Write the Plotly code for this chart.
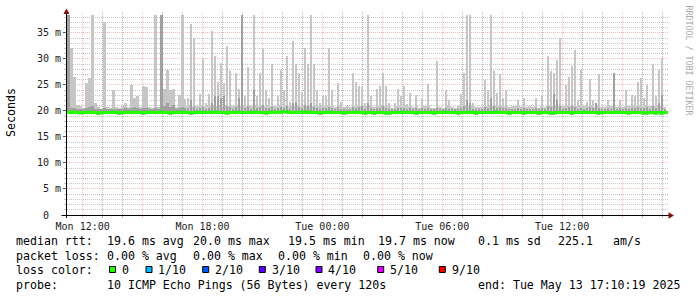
import plotly.graph_objects as go
import pandas as pd

# ---------------- data ----------------
START = "2025-05-12 11:13:00"
END = "2025-05-13 17:18:00"
STEP = "9min"

smoke_max = [
    38.5, 32.0, 26.6, 21.2, 21.0, 20.6, 25.3, 26.3, 38.5, 21.5, 20.8, 20.3, 37.0, 20.8, 20.5, 24.1, 20.8, 20.6, 21.0, 21.5,
    20.7, 25.0, 22.5, 22.8, 20.8, 24.8, 24.5, 20.8, 20.6, 38.5, 20.8, 38.5, 24.3, 27.9, 24.0, 24.3, 20.8, 23.0, 38.5, 22.3,
    22.4, 36.6, 34.0, 20.9, 23.3, 30.0, 21.5, 23.3, 35.4, 30.5, 25.6, 29.2, 25.3, 32.4, 27.6, 21.0, 27.3, 24.3, 38.5, 22.8,
    28.5, 21.0, 38.5, 22.8, 27.3, 31.9, 24.0, 22.4, 29.0, 21.0, 22.8, 27.9, 24.0, 30.6, 21.8, 33.5, 29.0, 27.3, 23.7, 32.0,
    29.0, 38.5, 29.0, 24.0, 21.5, 22.8, 22.8, 32.0, 24.0, 20.8, 25.3, 21.8, 20.8, 21.0, 20.7, 27.3, 25.6, 24.8, 24.6, 21.5,
    38.5, 22.8, 20.8, 24.2, 24.8, 27.3, 24.8, 21.5, 20.6, 21.5, 24.2, 22.8, 24.8, 21.3, 23.5, 20.8, 23.0, 20.6, 22.4, 21.0,
    25.2, 20.5, 20.6, 29.6, 20.8, 20.5, 24.1, 22.1, 20.8, 20.6, 21.0, 23.2, 27.3, 38.5, 38.5, 21.5, 20.8, 20.7, 20.8, 26.0,
    24.0, 38.5, 27.6, 23.5, 27.0, 22.4, 24.0, 20.8, 21.0, 21.0, 22.1, 20.8, 22.4, 20.8, 21.0, 20.7, 22.4, 20.6, 22.8, 20.8,
    30.5, 27.6, 27.3, 29.8, 34.0, 20.9, 25.0, 26.6, 28.7, 31.7, 22.1, 27.9, 20.9, 21.8, 26.2, 22.1, 20.8, 27.0, 20.8, 20.7,
    22.1, 21.0, 27.2, 20.8, 22.1, 20.8, 24.0, 20.9, 23.0, 22.8, 25.6, 26.3, 22.4, 25.0, 20.9, 29.0, 22.8, 27.9, 29.9, 20.8,
]

smoke_mid = [
    38.5, 20.6, 20.5, 20.4, 20.4, 20.3, 20.6, 20.8, 21.0, 20.4, 20.3, 20.3, 20.5, 20.4, 20.3, 20.4, 20.3, 20.3, 20.4, 20.5,
    20.3, 20.5, 20.8, 20.6, 20.3, 20.6, 20.5, 20.3, 20.3, 20.6, 20.4, 38.5, 21.0, 21.5, 20.8, 21.2, 20.4, 20.6, 20.8, 20.5,
    20.6, 22.0, 20.8, 20.4, 20.6, 20.8, 20.4, 20.6, 21.5, 22.8, 22.8, 22.5, 22.8, 21.0, 20.8, 20.4, 20.8, 22.5, 38.5, 20.6,
    21.0, 20.4, 24.0, 20.5, 20.8, 21.2, 20.6, 20.5, 20.8, 20.4, 20.5, 20.8, 20.6, 21.0, 20.4, 21.5, 21.8, 20.8, 20.6, 21.2,
    21.0, 21.5, 20.8, 20.6, 20.4, 20.6, 20.5, 20.8, 20.6, 20.3, 20.8, 20.4, 20.3, 20.4, 20.3, 20.8, 20.6, 20.8, 21.0, 20.4,
    21.5, 20.6, 20.3, 20.6, 20.5, 21.0, 20.6, 20.4, 20.3, 20.4, 20.6, 20.5, 20.6, 20.4, 20.5, 20.3, 20.5, 20.3, 20.5, 20.3,
    20.6, 20.3, 20.3, 20.6, 20.3, 20.3, 20.5, 20.4, 20.3, 20.3, 20.4, 20.6, 21.0, 22.0, 21.5, 20.4, 20.3, 20.3, 20.4, 20.8,
    20.6, 22.5, 21.0, 20.6, 20.8, 20.5, 20.6, 20.3, 20.4, 20.4, 20.5, 20.3, 20.6, 20.3, 20.4, 20.3, 20.5, 20.3, 20.6, 20.3,
    21.0, 20.8, 23.3, 22.0, 21.0, 20.4, 20.6, 20.8, 21.0, 20.8, 20.4, 20.6, 20.3, 20.5, 20.8, 20.5, 21.5, 20.6, 20.3, 20.3,
    20.5, 20.4, 27.2, 20.3, 20.5, 20.3, 20.6, 20.3, 20.5, 20.6, 20.8, 20.6, 20.5, 20.8, 20.3, 21.0, 20.6, 21.5, 23.0, 20.4,
]

smoke_min = [
    19.4, 19.4, 19.5, 19.4, 19.4, 19.4, 19.5, 19.4, 19.4, 19.4, 19.3, 19.4, 19.4, 19.4, 19.5, 19.4, 19.4, 19.3, 19.4, 19.4,
    19.4, 19.4, 19.5, 19.4, 19.4, 19.3, 19.4, 19.4, 19.4, 19.4, 19.4, 19.5, 19.4, 19.4, 19.3, 19.4, 19.4, 19.4, 19.5, 19.4,
    19.4, 19.3, 19.4, 19.4, 19.5, 19.4, 19.4, 19.4, 19.5, 19.5, 19.4, 19.4, 19.4, 19.3, 19.4, 19.4, 19.5, 19.4, 19.4, 19.4,
    19.4, 19.4, 19.5, 19.4, 19.4, 19.4, 19.3, 19.4, 19.5, 19.4, 19.4, 19.5, 19.6, 19.5, 19.4, 19.4, 19.4, 19.5, 19.5, 19.4,
    19.5, 19.4, 19.4, 19.4, 19.3, 19.4, 19.4, 19.5, 19.4, 19.4, 19.4, 19.4, 19.3, 19.4, 19.4, 19.4, 19.5, 19.4, 19.4, 19.3,
    19.4, 19.4, 19.3, 19.4, 19.4, 19.4, 19.3, 19.3, 19.4, 19.4, 19.4, 19.4, 19.5, 19.4, 19.4, 19.4, 19.3, 19.4, 19.4, 19.4,
    19.4, 19.4, 19.3, 19.4, 19.4, 19.4, 19.5, 19.4, 19.4, 19.4, 19.3, 19.4, 19.4, 19.4, 19.5, 19.4, 19.3, 19.4, 19.4, 19.4,
    19.4, 19.4, 19.4, 19.5, 19.4, 19.4, 19.4, 19.3, 19.4, 19.4, 19.4, 19.4, 19.3, 19.4, 19.4, 19.4, 19.4, 19.3, 19.4, 19.4,
    19.4, 19.3, 19.3, 19.4, 19.4, 19.4, 19.4, 19.4, 19.3, 19.4, 19.4, 19.4, 19.5, 19.4, 19.4, 19.4, 19.4, 19.3, 19.4, 19.4,
    19.4, 19.4, 19.4, 19.5, 19.4, 19.4, 19.4, 19.3, 19.4, 19.4, 19.4, 19.4, 19.3, 19.3, 19.4, 19.4, 19.3, 19.4, 19.3, 19.4,
]

median = [
    19.7, 19.8, 19.7, 19.7, 19.6, 19.7, 19.7, 19.8, 19.7, 19.7, 19.6, 19.6, 19.7, 19.7, 19.7, 19.8, 19.7, 19.6, 19.7, 19.7,
    19.7, 19.7, 19.8, 19.7, 19.7, 19.6, 19.7, 19.8, 19.7, 19.7, 19.7, 19.8, 19.7, 19.7, 19.6, 19.7, 19.7, 19.7, 19.8, 19.7,
    19.7, 19.6, 19.7, 19.7, 19.8, 19.7, 19.7, 19.7, 19.8, 19.8, 19.7, 19.7, 19.7, 19.6, 19.7, 19.7, 19.8, 19.7, 19.7, 19.7,
    19.7, 19.7, 19.8, 19.7, 19.7, 19.7, 19.6, 19.7, 19.8, 19.7, 19.7, 19.8, 19.9, 19.8, 19.7, 19.7, 19.7, 19.8, 19.8, 19.7,
    19.8, 19.7, 19.7, 19.7, 19.6, 19.7, 19.7, 19.8, 19.7, 19.7, 19.7, 19.7, 19.6, 19.7, 19.7, 19.7, 19.8, 19.7, 19.7, 19.6,
    19.7, 19.7, 19.6, 19.7, 19.7, 19.7, 19.6, 19.6, 19.7, 19.7, 19.7, 19.7, 19.8, 19.7, 19.7, 19.7, 19.6, 19.7, 19.7, 19.7,
    19.7, 19.7, 19.6, 19.7, 19.7, 19.7, 19.8, 19.7, 19.7, 19.7, 19.6, 19.7, 19.7, 19.7, 19.8, 19.7, 19.6, 19.7, 19.7, 19.7,
    19.7, 19.7, 19.7, 19.8, 19.7, 19.7, 19.7, 19.6, 19.7, 19.7, 19.7, 19.7, 19.6, 19.7, 19.7, 19.7, 19.7, 19.6, 19.7, 19.7,
    19.7, 19.6, 19.6, 19.7, 19.7, 19.7, 19.7, 19.7, 19.6, 19.7, 19.7, 19.7, 19.8, 19.7, 19.7, 19.7, 19.7, 19.6, 19.7, 19.7,
    19.7, 19.7, 19.7, 19.8, 19.7, 19.7, 19.7, 19.6, 19.7, 19.7, 19.7, 19.7, 19.6, 19.6, 19.7, 19.7, 19.6, 19.7, 19.6, 19.7,
]

y_tickvals = [0, 5, 10, 15, 20, 25, 30, 35]
y_ticktext = ["0\u00a0\u00a0", "5 m", "10 m", "15 m", "20 m", "25 m", "30 m", "35 m"]
x_tickvals = ["2025-05-12 12:00", "2025-05-12 15:00", "2025-05-12 18:00", "2025-05-12 21:00",
              "2025-05-13 00:00", "2025-05-13 03:00", "2025-05-13 06:00", "2025-05-13 09:00",
              "2025-05-13 12:00", "2025-05-13 15:00"]
x_ticktext = ["Mon 12:00", "", "Mon 18:00", "", "Tue 00:00", "", "Tue 06:00", "", "Tue 12:00", ""]

legend_rows = [
    [("median rtt:", 16), ("19.6 ms avg", 107), ("20.0 ms max", 193), ("19.5 ms min", 287.5),
     ("19.7 ms now", 377.5), ("0.1 ms sd", 478.5), ("225.1", 557.5), ("am/s", 613)],
    [("packet loss:", 16), ("0.00 % avg", 107), ("0.00 % max", 193), ("0.00 % min", 278), ("0.00 % now", 363)],
    [("loss color:", 16)],
    [("probe:", 16), ("10 ICMP Echo Pings (56 Bytes) every 120s", 107), ("end: Tue May 13 17:10:19 2025", 478)],
]
legend_row_y = [241, 255.5, 270, 284.5]
loss_labels = ["0", "1/10", "2/10", "3/10", "4/10", "5/10", "9/10"]
loss_colors = ["#26ff00", "#00b8ff", "#0059ff", "#5e00ff", "#7e00ff", "#dd00ff", "#ff0000"]
loss_box_x = [109.5, 146, 202.7, 259.3, 316, 377.7, 439.3]

# ---------------- geometry ----------------
W, H = 697, 297
L, R, T, B = 67, 29, 12, 82
PW, PH = W - L - R, H - T - B
FONT = "DejaVu Sans Mono"
SMOKE_BAND = 21.0  # upper edge of the continuous low smoke band


def px(x):
    return (x - L) / PW


def py(y):
    return (H - B - y) / PH


left_edges = pd.date_range(START, periods=len(smoke_max), freq=STEP)
step_td = pd.Timedelta(STEP)
centers = left_edges + step_td / 2
bar_w = step_td.total_seconds() * 1000

band_top = [min(v, SMOKE_BAND) for v in smoke_max]

# minor grid positions (hourly / every 1 ms) that do not coincide with major ones
hours = pd.date_range("2025-05-12 12:00", END, freq="1h")
x_minor = [h for h in hours if h.hour % 3 != 0]
y_minor = [v for v in range(0, 40) if v % 5 != 0]

fig = go.Figure()
fig.add_trace(go.Bar(x=centers, y=[a - b for a, b in zip(band_top, smoke_min)], base=smoke_min,
                     width=bar_w, marker=dict(color="#cdcdcd", line=dict(width=0)), hoverinfo="skip"))
fig.add_trace(go.Bar(x=centers, y=[a - b for a, b in zip(smoke_max, smoke_min)], base=smoke_min,
                     width=bar_w * 0.75, marker=dict(color="#c6c6c6", line=dict(width=0)), hoverinfo="skip"))
fig.add_trace(go.Bar(x=centers, y=[a - b for a, b in zip(smoke_mid, smoke_min)], base=smoke_min,
                     width=bar_w * 0.75, marker=dict(color="#a0a0a0", line=dict(width=0)), hoverinfo="skip"))
line_x = list(left_edges) + [pd.Timestamp(END)]
line_y = median + [median[-1]]
fig.add_trace(go.Scatter(x=line_x, y=line_y, mode="lines", line=dict(color="#26ff00", width=3, shape="hv"),
                         hoverinfo="skip"))

minor_grid_y = "rgba(120,120,120,0.42)"
minor_grid_x = "rgba(110,110,110,0.5)"
major_grid = "rgba(255,40,40,0.32)"

fig.update_layout(
    width=W, height=H, margin=dict(l=L, r=R, t=T, b=B, pad=0),
    paper_bgcolor="white", plot_bgcolor="white", showlegend=False,
    barmode="overlay", bargap=0,
    font=dict(family=FONT, size=10, color="#222222"),
    xaxis=dict(type="date", range=[START, END], tickmode="array", tickvals=x_tickvals, ticktext=x_ticktext,
               showgrid=True, gridcolor=major_grid, griddash="1px,1px", gridwidth=1,
               ticks="outside", ticklen=2, tickcolor=major_grid, showline=False, zeroline=False,
               tickfont=dict(family=FONT, size=10, color="#222222"),
               minor=dict(tickmode="array", tickvals=x_minor, showgrid=True,
                          gridcolor=minor_grid_x, griddash="1px,1px", ticks="outside", ticklen=2,
                          tickcolor=minor_grid_x)),
    yaxis=dict(range=[0, 39], tickmode="array", tickvals=y_tickvals, ticktext=y_ticktext,
               showgrid=True, gridcolor=major_grid, griddash="1px,1px", gridwidth=1,
               ticks="outside", ticklen=3, tickcolor="#555555", showline=False, zeroline=False,
               tickfont=dict(family=FONT, size=10, color="#222222"),
               minor=dict(tickmode="array", tickvals=y_minor, showgrid=True, gridcolor=minor_grid_y,
                          griddash="1px,1px", ticks="outside", ticklen=2, tickcolor=minor_grid_y)),
)

shapes = [
    dict(type="line", xref="paper", yref="paper", x0=px(61.5), x1=px(670), y0=py(215.5), y1=py(215.5),
         line=dict(color="black", width=1)),
    dict(type="line", xref="paper", yref="paper", x0=px(66.5), x1=px(66.5), y0=py(218), y1=py(11),
         line=dict(color="black", width=1)),
    dict(type="path", xref="paper", yref="paper",
         path=f"M {px(63.5)} {py(14)} L {px(69.5)} {py(14)} L {px(66.5)} {py(8.5)} Z",
         fillcolor="#7f1010", line=dict(width=0)),
    dict(type="path", xref="paper", yref="paper",
         path=f"M {px(668.5)} {py(212.3)} L {px(668.5)} {py(218.7)} L {px(674)} {py(215.5)} Z",
         fillcolor="#7f1010", line=dict(width=0)),
]
for bx, col in zip(loss_box_x, loss_colors):
    shapes.append(dict(type="rect", xref="paper", yref="paper", x0=px(bx), x1=px(bx + 6),
                       y0=py(266.5), y1=py(272.5), fillcolor=col, line=dict(color="black", width=1)))

annotations = []
LF = 11.6
for row, yy in zip(legend_rows, legend_row_y):
    for txt, xx in row:
        annotations.append(dict(text=txt, xref="paper", yref="paper", x=px(xx - 2), y=py(yy),
                                xanchor="left", yanchor="middle", showarrow=False,
                                font=dict(family=FONT, size=LF, color="black")))
for bx, lab in zip(loss_box_x, loss_labels):
    annotations.append(dict(text=lab, xref="paper", yref="paper", x=px(bx + 12.3 - 2), y=py(270),
                            xanchor="left", yanchor="middle", showarrow=False,
                            font=dict(family=FONT, size=LF, color="black")))
annotations.append(dict(text="Seconds", xref="paper", yref="paper", x=px(11), y=py(113), textangle=-90,
                        xanchor="center", yanchor="middle", showarrow=False,
                        font=dict(family=FONT, size=LF, color="black")))
annotations.append(dict(text="RRDTOOL / TOBI OETIKER", xref="paper", yref="paper", x=px(688.5), y=py(60),
                        textangle=90, xanchor="center", yanchor="middle", showarrow=False,
                        font=dict(family=FONT, size=8.3, color="#aaaaaa")))

fig.update_layout(shapes=shapes, annotations=annotations)
fig.write_html("out.html")
